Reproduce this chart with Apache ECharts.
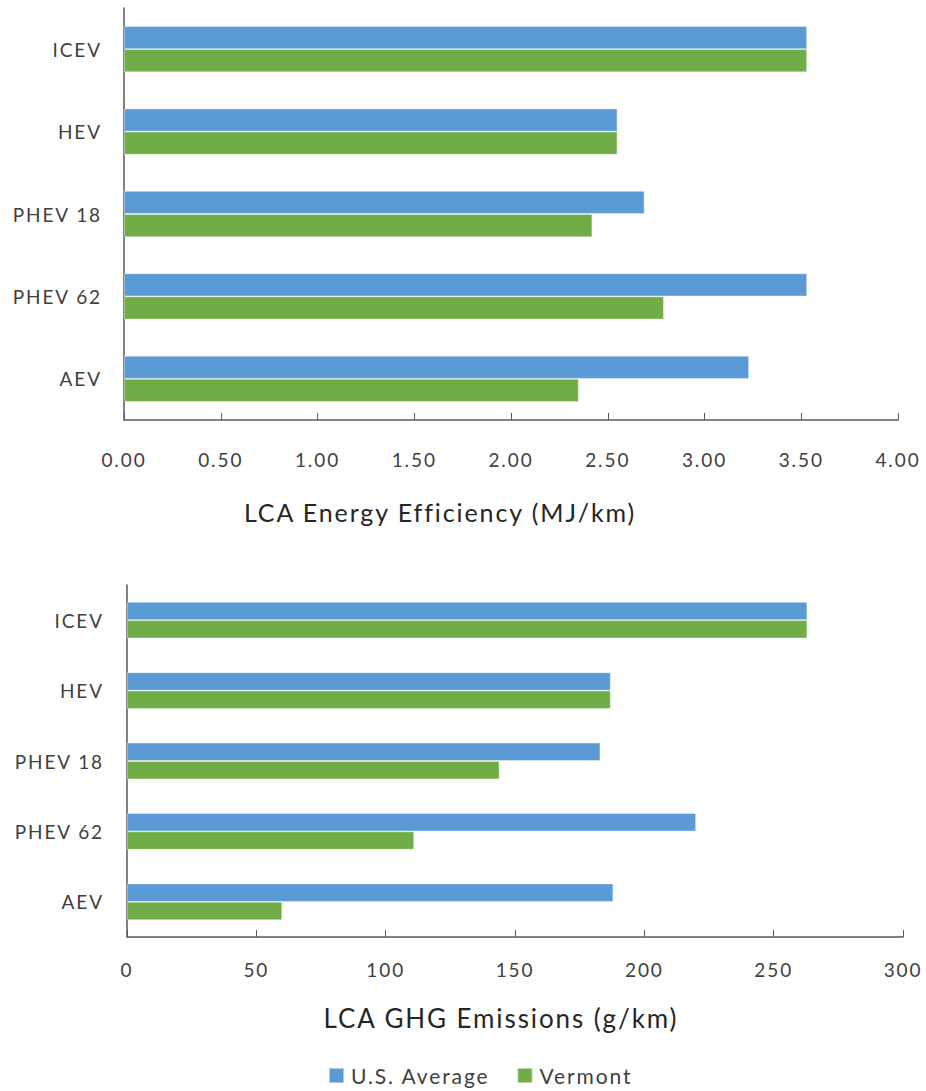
<!DOCTYPE html>
<html><head><meta charset="utf-8">
<script src="https://cdn.jsdelivr.net/npm/echarts@6/dist/echarts.min.js"></script>
<style>html,body{margin:0;padding:0;background:#fff}#c{width:926px;height:1091px}
#c svg text{letter-spacing:1.9px}</style>
</head><body><div id="c"></div>
<script>
const categories = ['ICEV', 'HEV', 'PHEV 18', 'PHEV 62', 'AEV'];
const seriesNames = ['U.S. Average', 'Vermont'];
const energyUS = [3.53, 2.55, 2.69, 3.53, 3.23];
const energyVT = [3.53, 2.55, 2.42, 2.79, 2.35];
const ghgUS = [263, 187, 183, 220, 188];
const ghgVT = [263, 187, 144, 111, 60];
const energyTitle = 'LCA Energy Efficiency (MJ/km)';
const ghgTitle = 'LCA GHG Emissions (g/km)';

const FONT = 'Lato';
const TXT = '#404040';
const blue = '#5B9BD5', green = '#70AD47';
const axisLine = {show: true, lineStyle: {color: '#595959', width: 1.5}};

const chart = echarts.init(document.getElementById('c'), null, {renderer: 'svg'});
const mkBar = (name, data, color, idx) => ({
  name, type: 'bar', data, xAxisIndex: idx, yAxisIndex: idx,
  itemStyle: {color, borderColor: 'rgba(255,255,255,0.5)', borderWidth: 0.8},
  barGap: '0%', barCategoryGap: idx === 0 ? '44%' : '48%', silent: true
});
chart.setOption({
  animation: false,
  textStyle: {fontFamily: FONT},
  grid: [
    {left: 124, right: 28, top: 8, height: 412},
    {left: 127, right: 23, top: 585, height: 352}
  ],
  legend: {
    bottom: 0, left: 323, itemWidth: 15, itemHeight: 15, itemGap: 49,
    icon: 'rect', data: seriesNames,
    textStyle: {fontSize: 21, color: TXT, fontFamily: FONT, padding: [0, 0, 0, 2]}
  },
  xAxis: [
    {gridIndex: 0, type: 'value', min: 0, max: 4, interval: 0.5,
     axisLine, splitLine: {show: false},
     axisTick: {show: true, inside: true, length: 7, lineStyle: {color: '#595959'}},
     axisLabel: {margin: 30, fontSize: 19, color: TXT, formatter: v => v.toFixed(2)},
     name: energyTitle, nameLocation: 'middle', nameGap: 79,
     nameTextStyle: {fontSize: 25, color: '#262626', padding: [0, 142, 0, 0]}},
    {gridIndex: 1, type: 'value', min: 0, max: 300, interval: 50,
     axisLine, splitLine: {show: false},
     axisTick: {show: true, inside: true, length: 7, lineStyle: {color: '#595959'}},
     axisLabel: {margin: 23, fontSize: 19, color: TXT},
     name: ghgTitle, nameLocation: 'middle', nameGap: 68,
     nameTextStyle: {fontSize: 26, color: '#262626', padding: [0, 28, 0, 0]}}
  ],
  yAxis: [
    {gridIndex: 0, type: 'category', data: categories, inverse: true,
     axisLine, axisTick: {show: false},
     axisLabel: {margin: 22, fontSize: 19, color: TXT}},
    {gridIndex: 1, type: 'category', data: categories, inverse: true,
     axisLine, axisTick: {show: false},
     axisLabel: {margin: 23, fontSize: 19, color: TXT}}
  ],
  series: [
    mkBar(seriesNames[0], energyUS, blue, 0),
    mkBar(seriesNames[1], energyVT, green, 0),
    mkBar(seriesNames[0], ghgUS, blue, 1),
    mkBar(seriesNames[1], ghgVT, green, 1)
  ]
});
</script></body></html>
